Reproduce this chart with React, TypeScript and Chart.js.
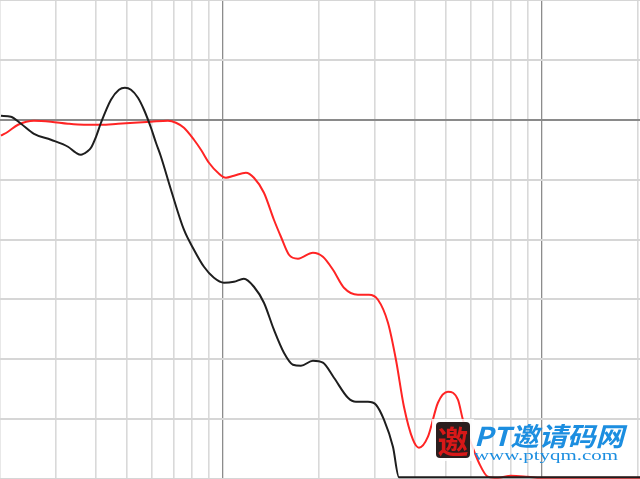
import React, { useEffect, useRef } from "react";
import { Chart, registerables } from "chart.js";

Chart.register(...registerables);

// Frequency (Hz) / level (dB)
const blackFreq = [201.4, 216.4, 232.7, 255.6, 288.9, 326.7, 346.1, 358.8, 374.8, 385.7, 399.9, 414.6, 445.6, 472.1, 493.0, 514.8, 541.5, 565.5, 594.8, 616.6, 639.3, 687.1, 754.6, 811.2, 871.9, 937.1, 1007.3, 1082.6, 1163.5, 1250.6, 1344.3, 1444.7, 1553.0, 1657.6, 1756.4, 1914.6, 2057.6, 2228.7, 2465.6, 2611.2, 2848.4, 3017.8, 3197.1, 3411.7, 3562.8, 5000, 10000, 20300];
const blackDb = [0.67, 0.5, -0.67, -2.34, -3.34, -4.51, -5.51, -5.85, -5.34, -4.68, -2.84, -0.5, 3.34, 5.01, 5.34, 5.01, 3.67, 1.67, -1.34, -3.84, -6.18, -11.69, -18.37, -21.71, -24.55, -26.39, -27.22, -27.06, -26.56, -27.89, -30.56, -35.07, -38.91, -40.92, -41.09, -40.25, -40.58, -43.09, -46.43, -47.1, -47.1, -47.6, -50.1, -54.61, -59.7, -59.7, -59.7, -59.7];

const redFreq = [201.4, 211.8, 227.8, 255.6, 288.9, 326.7, 366.7, 414.6, 468.8, 526.1, 594.8, 672.4, 712.4, 754.6, 811.2, 853.3, 903.9, 964.7, 1021.9, 1082.6, 1180.4, 1250.6, 1344.3, 1444.7, 1519.8, 1610.5, 1718.8, 1914.6, 2057.6, 2212.7, 2395.4, 2650.0, 2869.1, 3061.7, 3291.2, 3486.5, 3693.7, 3941.6, 4116.1, 4392.8, 4720.6, 5073.3, 5453.0, 5653.2, 5989.4, 6345.3, 6771.0, 7277.8, 7996.8, 9040.3, 9928.6, 20300];
const redDb = [-2.67, -2.0, -0.84, -0.17, -0.33, -0.67, -0.84, -0.84, -0.67, -0.5, -0.33, -0.17, -0.5, -1.34, -3.34, -5.01, -7.18, -8.85, -9.69, -9.35, -8.85, -9.69, -12.19, -16.7, -19.54, -22.55, -23.21, -22.21, -22.88, -25.05, -28.06, -29.23, -29.23, -30.06, -33.9, -40.08, -47.93, -53.44, -54.78, -52.94, -47.27, -45.43, -46.76, -50.1, -53.95, -57.29, -59.62, -59.79, -59.46, -59.62, -59.79, -59.79];

const xGridTicks = [200, 300, 400, 500, 600, 700, 800, 900, 1000, 2000, 3000, 4000, 5000, 6000, 7000, 8000, 9000, 10000, 20000];
const darkFreqs = [1000, 10000];

const watermarkTitle = "PT邀请码网";
const watermarkUrl = "www.ptyqm.com";
const sealChar = "邀";

const watermarkPlugin = {
  id: "watermark",
  afterDraw(chart: any) {
    const ctx = chart.ctx as CanvasRenderingContext2D;
    ctx.save();
    // seal
    ctx.fillStyle = "rgba(255,255,255,0.85)";
    ctx.fillRect(432, 419, 42, 42);
    ctx.fillStyle = "#2b1d1d";
    ctx.beginPath();
    const r = 4, sx = 436, sy = 422, sw = 34, sh = 36;
    ctx.moveTo(sx + r, sy);
    ctx.lineTo(sx + sw - r, sy);
    ctx.quadraticCurveTo(sx + sw, sy, sx + sw, sy + r);
    ctx.lineTo(sx + sw, sy + sh - r);
    ctx.quadraticCurveTo(sx + sw, sy + sh, sx + sw - r, sy + sh);
    ctx.lineTo(sx + r, sy + sh);
    ctx.quadraticCurveTo(sx, sy + sh, sx, sy + sh - r);
    ctx.lineTo(sx, sy + r);
    ctx.quadraticCurveTo(sx, sy, sx + r, sy);
    ctx.fill();
    ctx.fillStyle = "#d81818";
    ctx.font = "bold 31px 'Noto Sans CJK SC'";
    ctx.textAlign = "center";
    ctx.textBaseline = "middle";
    ctx.fillText(sealChar, sx + sw / 2, sy + sh / 2 + 1);

    // title
    ctx.textAlign = "left";
    ctx.textBaseline = "alphabetic";
    ctx.fillStyle = "#1c8ee0";
    ctx.font = "italic bold 26px 'Noto Sans CJK SC'";
    let w = ctx.measureText(watermarkTitle).width;
    ctx.save();
    ctx.translate(474, 446);
    ctx.scale(150 / w, 1);
    ctx.fillText(watermarkTitle, 0, 0);
    ctx.restore();

    // url
    ctx.font = "15px 'Liberation Serif'";
    w = ctx.measureText(watermarkUrl).width;
    ctx.save();
    ctx.translate(474, 460);
    ctx.scale(144 / w, 1);
    ctx.fillText(watermarkUrl, 0, 0);
    ctx.restore();
    ctx.restore();
  },
};

export default function App() {
  const ref = useRef<HTMLCanvasElement | null>(null);

  useEffect(() => {
    document.body.style.margin = "0";
    const canvas = ref.current!;
    const chart = new Chart(canvas, {
      type: "line",
      data: {
        datasets: [
          {
            label: "black",
            data: blackFreq.map((f, i) => ({ x: f, y: blackDb[i] })),
            borderColor: "#1e1e1e",
            borderWidth: 2,
            pointRadius: 0,
            cubicInterpolationMode: "monotone",
            fill: false,
          },
          {
            label: "red",
            data: redFreq.map((f, i) => ({ x: f, y: redDb[i] })),
            borderColor: "#ff2424",
            borderWidth: 2,
            pointRadius: 0,
            cubicInterpolationMode: "monotone",
            fill: false,
          },
        ],
      },
      options: {
        responsive: false,
        animation: false,
        layout: { padding: 0 },
        plugins: { legend: { display: false }, tooltip: { enabled: false } },
        scales: {
          x: {
            type: "logarithmic",
            min: 200,
            max: 20300,
            afterBuildTicks: (scale: any) => {
              scale.ticks = xGridTicks.map((v) => ({ value: v }));
            },
            ticks: { display: false },
            border: { display: false },
            grid: {
              drawTicks: false,
              color: (c: any) => (darkFreqs.includes(c.tick?.value) ? "#8c8c8c" : "#d9d9d9"),
              lineWidth: (c: any) => (darkFreqs.includes(c.tick?.value) ? 1.3 : 1.6),
            },
          },
          y: {
            type: "linear",
            min: -60,
            max: 20,
            ticks: { display: false, stepSize: 10 },
            border: { display: false },
            grid: {
              drawTicks: false,
              color: (c: any) => (c.tick?.value === 0 ? "#8a8a8a" : "#d6d6d6"),
              lineWidth: 2,
            },
          },
        },
      },
      plugins: [watermarkPlugin],
    } as any);
    return () => chart.destroy();
  }, []);

  return (
    <canvas
      ref={ref}
      width={640}
      height={479}
      style={{ position: "fixed", left: 0, top: 0, width: 640, height: 479, background: "#fff" }}
    />
  );
}
